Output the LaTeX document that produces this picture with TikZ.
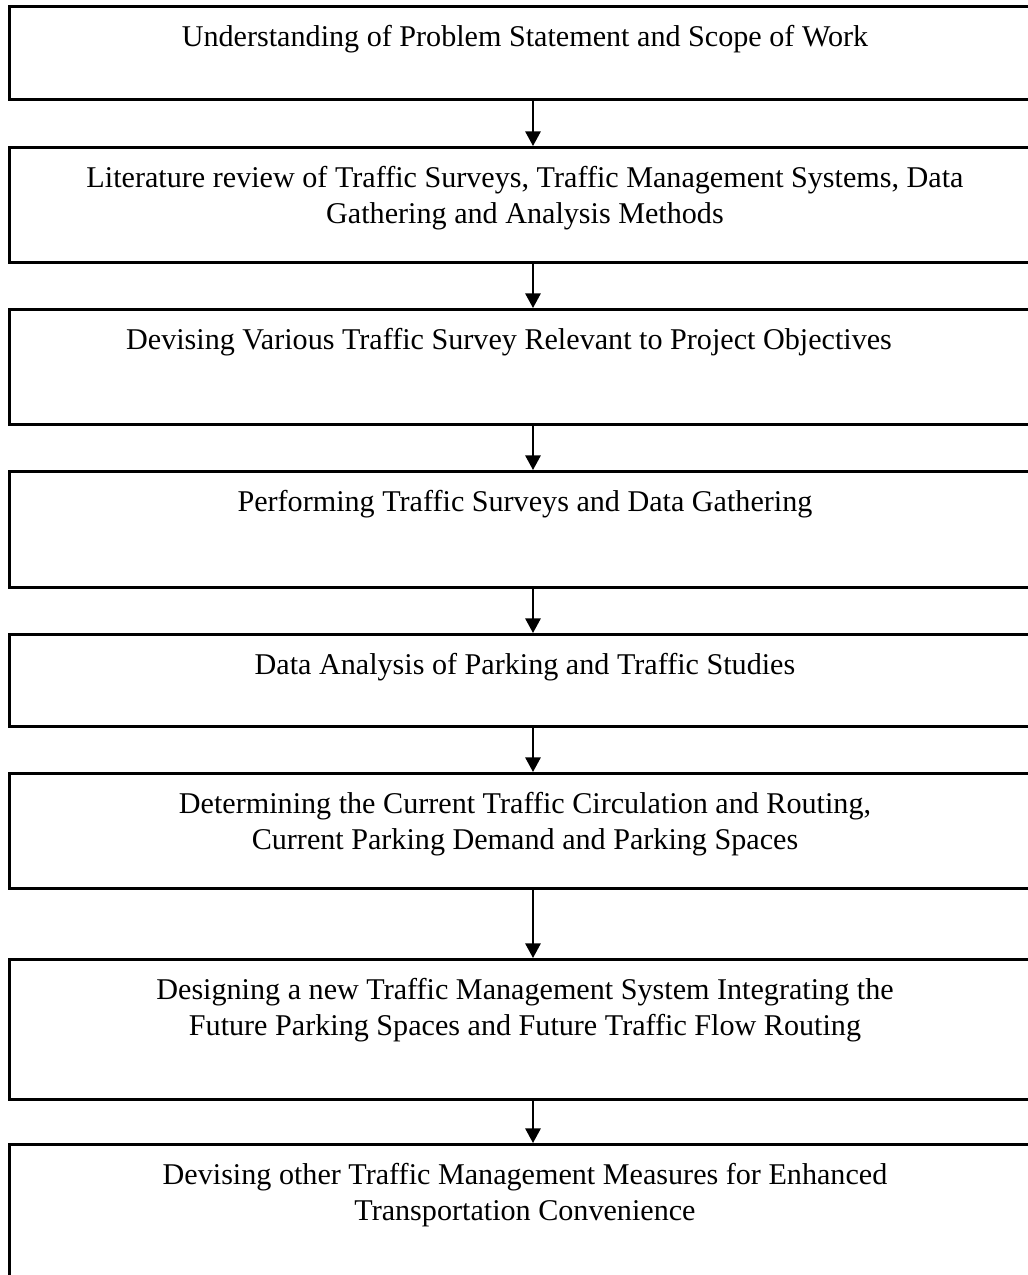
\documentclass[tikz,border=0pt]{standalone}
\usepackage{fontspec}
\setmainfont{Liberation Serif}
\usetikzlibrary{arrows.meta,positioning}
\newlength\pxu
\setlength\pxu{0.75pt}
\newcommand\boxtext[2]{\parbox[c][#1\pxu][t]{1032\pxu}{\centering\fontsize{22.6pt}{27pt}\selectfont\rule{0pt}{40\pxu}#2}}

\begin{document}
\begin{tikzpicture}[x=0.75pt,y=-0.75pt]
                    \tikzstyle{every node}+=[inner sep=0pt]
                    \tikzstyle{stepbox}=[draw=black, line width=2.25pt, anchor=north]
                    \tikzstyle{flow}=[black, line width=1.5pt, -{Triangle[width=11.5pt,length=11pt]}]
                    \clip (0,0) rectangle (1028,1275);
                    \node[stepbox] (scope) at (525,5) {\boxtext{93}{Understanding of Problem Statement and Scope of Work}};
                    \node[stepbox] (review) at (525,146) {\boxtext{115}{Literature review of Traffic Surveys, Traffic Management Systems, Data\\ Gathering and Analysis Methods}};
                    \node[stepbox] (devise) at (525,308) {\boxtext{115}{Devising Various Traffic Survey Relevant to Project Objectives\hspace*{32\pxu}}};
                    \node[stepbox] (survey) at (525,470) {\boxtext{116}{Performing Traffic Surveys and Data Gathering}};
                    \node[stepbox] (analysis) at (525,633) {\boxtext{92}{Data Analysis of Parking and Traffic Studies}};
                    \node[stepbox] (current) at (525,772) {\boxtext{115}{Determining the Current Traffic Circulation and Routing,\\ Current Parking Demand and Parking Spaces}};
                    \node[stepbox] (design) at (525,958) {\boxtext{140}{Designing a new Traffic Management System Integrating the\\ Future Parking Spaces and Future Traffic Flow Routing}};
                    \node[stepbox] (measures) at (525,1143) {\boxtext{160}{Devising other Traffic Management Measures for Enhanced\\ Transportation Convenience}};
                    \draw[flow] ([xshift=6pt]scope.south) -- ([xshift=6pt]review.north);
                    \draw[flow] ([xshift=6pt]review.south) -- ([xshift=6pt]devise.north);
                    \draw[flow] ([xshift=6pt]devise.south) -- ([xshift=6pt]survey.north);
                    \draw[flow] ([xshift=6pt]survey.south) -- ([xshift=6pt]analysis.north);
                    \draw[flow] ([xshift=6pt]analysis.south) -- ([xshift=6pt]current.north);
                    \draw[flow] ([xshift=6pt]current.south) -- ([xshift=6pt]design.north);
                    \draw[flow] ([xshift=6pt]design.south) -- ([xshift=6pt]measures.north);
                \end{tikzpicture}
\end{document}
